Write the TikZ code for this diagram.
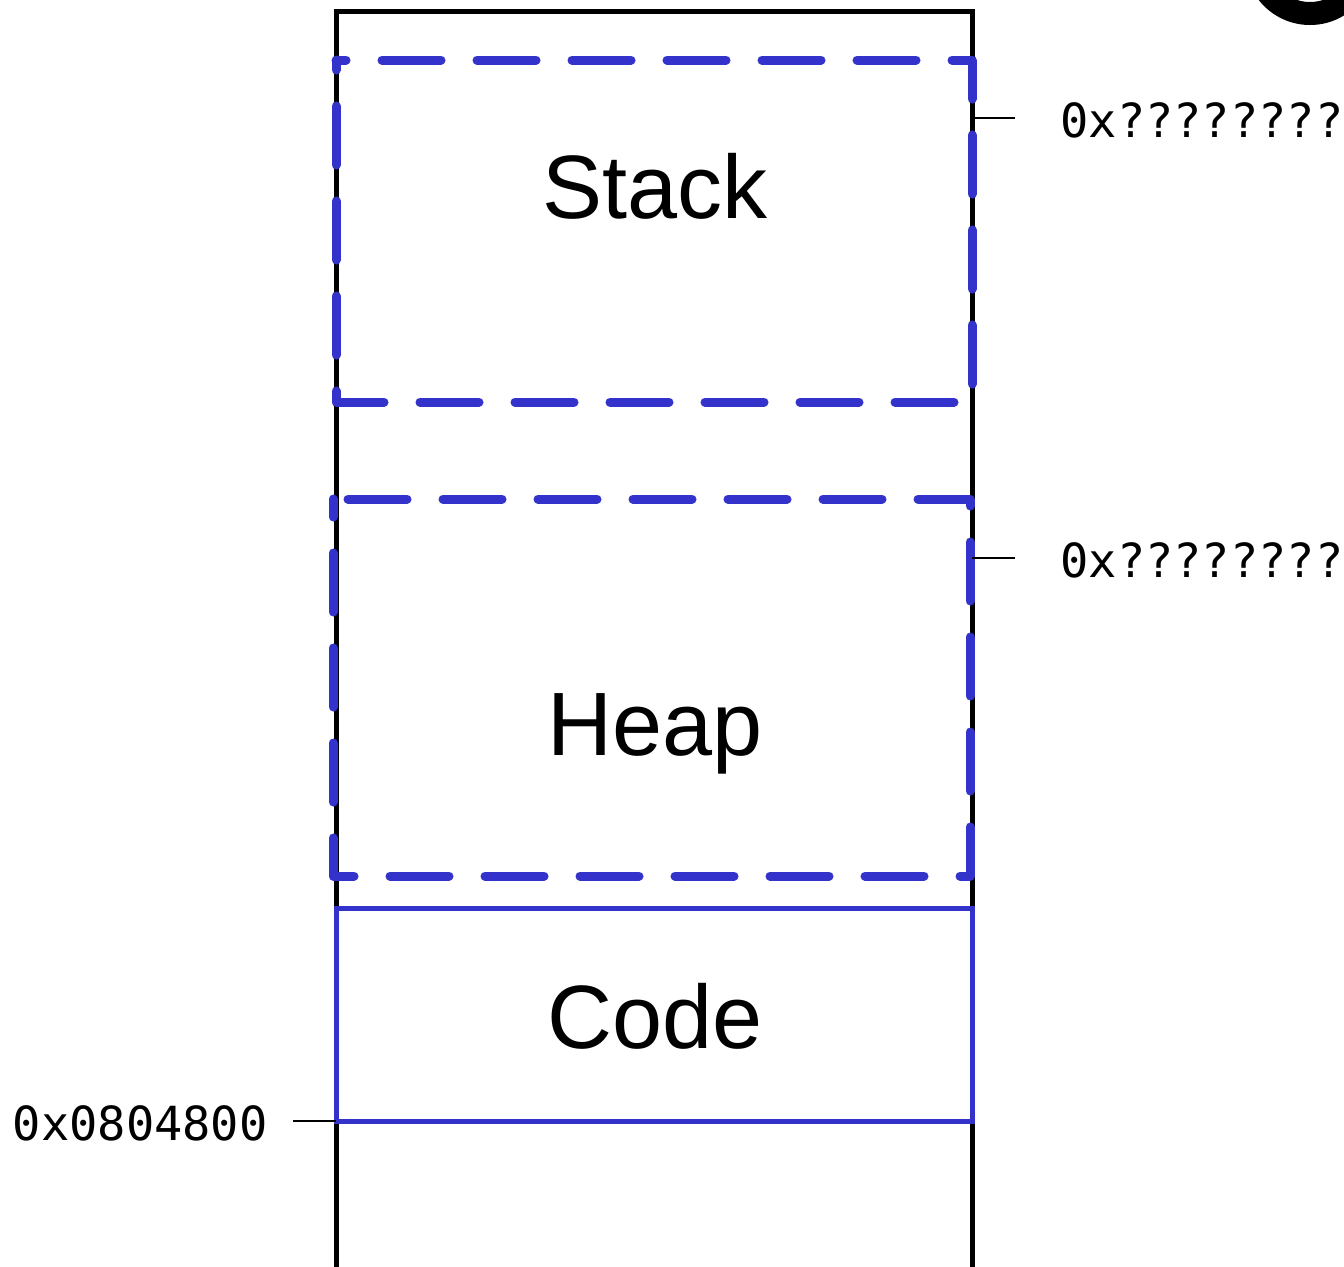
\documentclass[tikz,border=0pt]{standalone}
\usepackage{fontspec}
\setmainfont{Liberation Sans}
\newfontfamily\addrfont{DejaVu Sans Mono}
\definecolor{segblue}{RGB}{51,51,204}
\tikzset{
  memwall/.style={draw=black, line width=2.5pt},
  segdashed/.style={draw=segblue, line width=4.5pt, line cap=round, line join=round,
                    dash pattern=on 29.5pt off 18pt},
  segsolid/.style={draw=segblue, line width=2.5pt},
  tickline/.style={draw=black, line width=1pt},
  seglabel/.style={anchor=base, inner sep=0pt, font=\fontsize{45}{54}\selectfont},
  addrlabel/.style={inner sep=0pt, font=\addrfont\fontsize{23.5}{28}\selectfont},
}
\begin{document}
\begin{tikzpicture}[x=0.5pt, y=-0.5pt]
\clip (0,0) rectangle (1344,1266);
\fill[white] (0,0) rectangle (1344,1266);

% memory column
\draw[memwall] (336,1300) -- (336,11) -- (972,11) -- (972,1300);

% ring in the upper right corner
\fill[black, even odd rule] (1310,-40) circle[radius=65] (1310,-40) circle[radius=42];

% segments
\draw[segdashed, dash phase=24.5pt] (336,60) -- (972,60) -- (972,402) -- (336,402) -- cycle;
\draw[segdashed, dash phase=40pt] (333,499) -- (970,499) -- (970,876) -- (333,876) -- cycle;
\draw[segsolid] (336,908) rectangle (972,1121);

\node[seglabel] (stack) at (655,218) {Stack};
\node[seglabel] (heap)  at (655,755) {Heap};
\node[seglabel] (code)  at (655,1048) {Code};

% address markers
\coordinate (s0) at (972,118);
\coordinate (h0) at (972,558);
\coordinate (c0) at (336,1121);
\node[addrlabel, anchor=west] (stackaddr) at (1060,120) {0x????????};
\node[addrlabel, anchor=west] (heapaddr)  at (1060,560) {0x????????};
\node[addrlabel, anchor=east] (codeaddr)  at (268,1123) {0x0804800};
\draw[tickline] (s0) -- (1015,118);
\draw[tickline] (h0) -- (1015,558);
\draw[tickline] (c0) -- (293,1121);
\end{tikzpicture}
\end{document}
